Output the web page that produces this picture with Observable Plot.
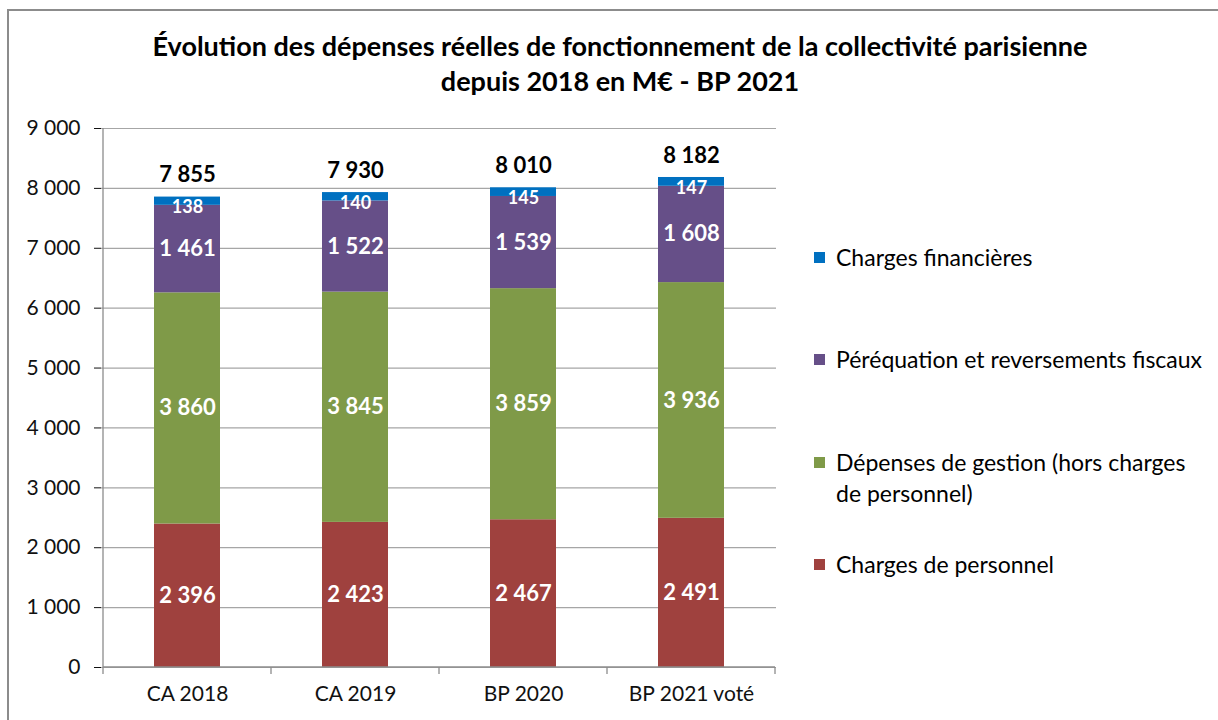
<!DOCTYPE html>
<html><head><meta charset="utf-8">
<script src="https://cdn.jsdelivr.net/npm/d3@7"></script>
<script src="https://cdn.jsdelivr.net/npm/@observablehq/plot@0.6"></script>
<style>
body{margin:0;background:#fff;font-family:Lato,"Noto Sans",sans-serif;}
#wrap{position:relative;width:1218px;height:720px;overflow:hidden;background:#fff;}
#border{position:absolute;left:7px;top:9px;width:1300px;height:800px;border-left:2px solid #8c8c8c;border-top:2px solid #8c8c8c;}
#title{position:absolute;left:0;width:1240px;top:28px;text-align:center;font-weight:bold;font-size:27px;line-height:35px;color:#000;}
#chart{position:absolute;left:0;top:110px;}
.leg{position:absolute;left:814px;font-size:23px;line-height:31px;color:#000;padding-left:22px;white-space:nowrap;}
.leg .sw{position:absolute;left:0;top:10px;width:11px;height:11px;}
</style></head>
<body><div id="wrap"><div id="border"></div>
<div id="title">Évolution des dépenses réelles de fonctionnement de la collectivité parisienne<br>depuis 2018 en M€ - BP 2021</div>
<div id="chart"></div>
<div id="legend"></div>
</div>
<script>
const categories = ["CA 2018", "CA 2019", "BP 2020", "BP 2021 voté"];
const seriesNames = ["Charges de personnel", "Dépenses de gestion (hors charges de personnel)", "Péréquation et reversements fiscaux", "Charges financières"];
const personnel = [2396, 2423, 2467, 2491];
const gestion = [3860, 3845, 3859, 3936];
const perequation = [1461, 1522, 1539, 1608];
const financieres = [138, 140, 145, 147];
const totals = [7855, 7930, 8010, 8182];
const colors = ["#9f413e", "#7f9a48", "#664f88", "#0070c0"];
const yTicks = [0, 1000, 2000, 3000, 4000, 5000, 6000, 7000, 8000, 9000];

const seriesValues = [personnel, gestion, perequation, financieres];
const data = [];
seriesNames.forEach((s, i) => categories.forEach((c, j) => data.push({cat: c, series: s, value: seriesValues[i][j]})));
const totalData = categories.map((c, j) => ({cat: c, total: totals[j]}));

const loc = d3.formatLocale({thousands: "\u00a0", grouping: [3], decimal: ",", currency: ["", "€"]});
const fmt = loc.format(",");
const small = d => d.series === seriesNames[3];

const W = 790, H = 600;
const plot = Plot.plot({
  width: W, height: H,
  marginLeft: 101, marginRight: W - 776, marginTop: 18, marginBottom: 43,
  style: {fontFamily: "Lato, 'Noto Sans', sans-serif", fontSize: "21px", color: "#111", background: "transparent"},
  x: {domain: categories, padding: 0, label: null, tickSize: 0, tickPadding: 19},
  y: {domain: [0, 9000], ticks: yTicks, tickFormat: fmt, label: null, tickSize: 7, tickPadding: 14},
  color: {domain: seriesNames, range: colors},
  marks: [
    Plot.gridY(yTicks, {stroke: "#a6a6a6", strokeOpacity: 1, strokeWidth: 1.2}),
    Plot.barY(data, {x: "cat", y: "value", fill: "series", insetLeft: 51, insetRight: 51, order: seriesNames}),
    Plot.text(totalData, {x: "cat", y: "total", text: d => fmt(d.total), dy: -22, fill: "black", fontWeight: "bold", fontSize: 22, stroke: "white", strokeWidth: 9, paintOrder: "stroke"}),
    Plot.text(data, Plot.stackY({x: "cat", y: "value", z: "series", order: seriesNames, text: d => small(d) ? "" : fmt(d.value), fill: "white", fontWeight: "bold", fontSize: 22})),
    Plot.text(data, Plot.stackY({x: "cat", y: "value", z: "series", order: seriesNames, text: d => small(d) ? fmt(d.value) : "", fill: "white", fontWeight: "bold", fontSize: 18, dy: 6})),
  ]
});
document.getElementById("chart").appendChild(plot);

// axis lines and boundary ticks
const xs = plot.scale("x"), ys = plot.scale("y");
const svg = d3.select(plot);
const y0 = ys.apply(0), y9 = ys.apply(9000);
const g = svg.append("g").attr("stroke", "#8c8c8c").attr("stroke-width", 1.3);
const left = xs.apply(categories[0]);
g.append("line").attr("x1", left).attr("x2", left).attr("y1", y9).attr("y2", y0);
const bounds = categories.map(c => xs.apply(c)).concat([xs.apply(categories[categories.length - 1]) + xs.bandwidth]);
g.selectAll(".bt").data(bounds).join("line").attr("x1", d => d).attr("x2", d => d).attr("y1", y0).attr("y2", y0 + 7);
g.append("line").attr("x1", left).attr("x2", bounds[bounds.length - 1]).attr("y1", y0).attr("y2", y0);

// legend
const legTops = [242, 344, 447, 549];
const legOrder = [3, 2, 1, 0];
const legend = document.getElementById("legend");
legOrder.forEach((si, k) => {
  const d = document.createElement("div");
  d.className = "leg";
  d.style.top = legTops[k] + "px";
  const sw = document.createElement("span");
  sw.className = "sw"; sw.style.background = colors[si];
  d.appendChild(sw);
  const label = si === 1 ? "Dépenses de gestion (hors charges<br>de personnel)" : seriesNames[si];
  const t = document.createElement("span");
  t.innerHTML = label;
  d.appendChild(t);
  legend.appendChild(d);
});
</script>
</body></html>
